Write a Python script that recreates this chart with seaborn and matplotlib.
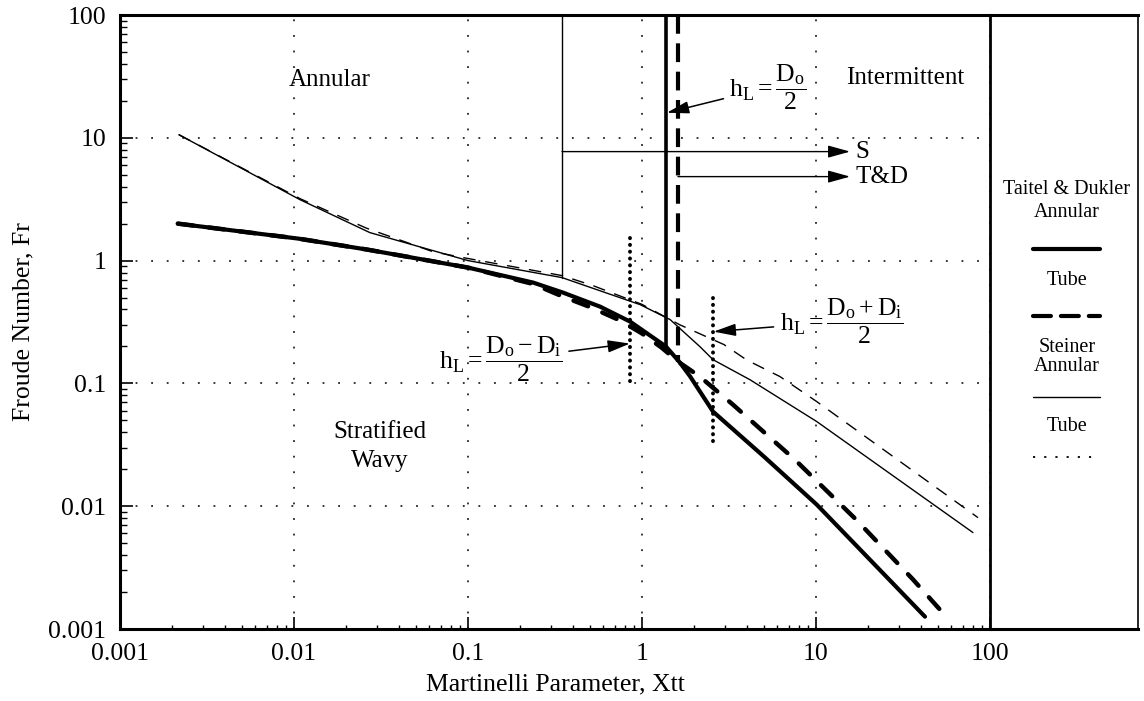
import numpy as np
import pandas as pd
import matplotlib
matplotlib.use("Agg")
import matplotlib.pyplot as plt
import seaborn as sns
from matplotlib.ticker import FixedLocator, FixedFormatter, LogLocator, NullFormatter

# ---------------- data ----------------
# Taitel & Dukler, annular (thick solid)
td_annular_x = [0.00215, 0.0106, 0.0263, 0.1, 0.237, 0.35, 0.574, 0.853, 1.374, 1.652, 1.89, 2.56, 5.0, 10.1, 42.3]
td_annular_y = [2.0, 1.51, 1.23, 0.877, 0.662, 0.55, 0.422, 0.319, 0.1995, 0.1477, 0.114, 0.0589, 0.0255, 0.0103, 0.00126]
# Taitel & Dukler, tube (thick dashed)
td_tube_x = [0.00215, 0.0106, 0.0263, 0.1, 0.237, 0.35, 0.5, 0.75, 1.0, 1.3, 1.61, 2.15, 3.33, 7.57, 17.0, 36.1, 56.6]
td_tube_y = [2.0, 1.51, 1.23, 0.877, 0.645, 0.51, 0.42, 0.325, 0.255, 0.195, 0.1506, 0.1136, 0.0672, 0.0239, 0.00778, 0.00253, 0.00124]
# Steiner, annular (thin solid)
st_annular_x = [0.00218, 0.0108, 0.0273, 0.1, 0.347, 0.975, 1.45, 2.15, 2.56, 4.18, 10.1, 79.8]
st_annular_y = [10.6, 3.14, 1.69, 1.0, 0.727, 0.438, 0.331, 0.1995, 0.156, 0.107, 0.0489, 0.0061]
# Steiner, tube (thin dashed)
st_tube_x = [0.00218, 0.0108, 0.026, 0.063, 0.1, 0.347, 0.522, 1.0, 1.65, 2.96, 4.0, 6.21, 10.1, 85.3]
st_tube_y = [10.6, 3.2, 1.84, 1.18, 1.04, 0.755, 0.626, 0.44, 0.30, 0.207, 0.155, 0.1136, 0.0711, 0.00807]

# vertical transition lines (x, y_top, y_bottom)
td_annular_vline = (1.374, 100.0, 0.1995)
td_tube_vline = (1.61, 100.0, 0.1506)
st_vline = (0.347, 100.0, 0.727)
# liquid-level markers (dotted verticals)
hl_inner_line = (0.853, 1.54, 0.094)
hl_mid_line = (2.56, 0.5, 0.0306)
# arrows S and T&D  (x_start, x_end, y)
s_arrow = (0.347, 15.7, 7.72)
td_arrow = (1.61, 15.7, 4.83)

tick_vals = [0.001, 0.01, 0.1, 1, 10, 100]
tick_labels = ["0.001", "0.01", "0.1", "1", "10", "100"]

# ---------------- style ----------------
sns.set_theme(style="white")
plt.rcParams["font.family"] = ["Liberation Serif", "DejaVu Serif"]
plt.rcParams["text.color"] = "black"
plt.rcParams["axes.labelcolor"] = "black"
plt.rcParams["xtick.color"] = "black"
plt.rcParams["ytick.color"] = "black"
plt.rcParams["mathtext.fontset"] = "custom"
plt.rcParams["mathtext.rm"] = "Liberation Serif"
plt.rcParams["mathtext.it"] = "Liberation Serif:italic"
plt.rcParams["mathtext.bf"] = "Liberation Serif:bold"
plt.rcParams["mathtext.default"] = "regular"

W, H = 1144, 701
fig = plt.figure(figsize=(W / 100, H / 100), dpi=100)
fig.patch.set_facecolor("white")

# ---------------- legend panel (drawn first, transparent) ----------------
lax = fig.add_axes([990 / W, 1 - 629 / H, 148 / W, 614 / H])
lax.set_xlim(0, 1)
lax.set_ylim(0, 1)
lax.set_xticks([])
lax.set_yticks([])
lax.patch.set_visible(False)
lax.spines["left"].set_visible(False)
for side in ("top", "bottom"):
    lax.spines[side].set_color("black")
    lax.spines[side].set_linewidth(2.2)
lax.spines["right"].set_color("black")
lax.spines["right"].set_linewidth(1.2)

lfs = 14.5
lx0, lx1 = 0.29, 0.74
lax.text(0.52, 0.715, "Taitel & Dukler", ha="center", va="center", fontsize=lfs)
lax.text(0.52, 0.678, "Annular", ha="center", va="center", fontsize=lfs)
lax.plot([lx0, lx1], [0.619, 0.619], color="black", lw=3.0, solid_capstyle="round")
lax.text(0.52, 0.568, "Tube", ha="center", va="center", fontsize=lfs)
lax.plot([lx0, lx1], [0.510, 0.510], color="black", lw=3.0, linestyle=(0, (4.3, 2.4)),
         dash_capstyle="round")
lax.text(0.52, 0.459, "Steiner", ha="center", va="center", fontsize=lfs)
lax.text(0.52, 0.427, "Annular", ha="center", va="center", fontsize=lfs)
lax.plot([lx0, lx1], [0.378, 0.378], color="black", lw=1.0)
lax.text(0.52, 0.329, "Tube", ha="center", va="center", fontsize=lfs)
lax.plot([lx0, lx1], [0.280, 0.280], color="black", lw=1.3, linestyle=(0, (1.2, 5)))

# ---------------- main axes ----------------
ax = fig.add_axes([120 / W, 1 - 629 / H, 870 / W, 614 / H])
ax.patch.set_visible(False)
ax.set_xscale("log")
ax.set_yscale("log")
ax.set_xlim(0.001, 100)
ax.set_ylim(0.001, 100)

# grid
ax.grid(True, which="major", color="black", lw=1.1, ls=(0, (1.2, 9)))
ax.set_axisbelow(True)

# curves
df_tda = pd.DataFrame({"x": td_annular_x, "y": td_annular_y})
df_tdt = pd.DataFrame({"x": td_tube_x, "y": td_tube_y})
df_sta = pd.DataFrame({"x": st_annular_x, "y": st_annular_y})
df_stt = pd.DataFrame({"x": st_tube_x, "y": st_tube_y})

sns.lineplot(data=df_stt, x="x", y="y", ax=ax, color="black", lw=1.0,
             linestyle=(0, (9, 7)), estimator=None, sort=False, errorbar=None)
sns.lineplot(data=df_sta, x="x", y="y", ax=ax, color="black", lw=1.0,
             estimator=None, sort=False, errorbar=None)
sns.lineplot(data=df_tdt, x="x", y="y", ax=ax, color="black", lw=3.2,
             linestyle=(0, (3.5, 3.5)), estimator=None, sort=False, errorbar=None,
             dash_capstyle="round")
sns.lineplot(data=df_tda, x="x", y="y", ax=ax, color="black", lw=3.0,
             estimator=None, sort=False, errorbar=None, solid_capstyle="round")

# vertical transition lines
ax.plot([td_annular_vline[0]] * 2, td_annular_vline[1:], color="black", lw=2.6)
ax.plot([td_tube_vline[0]] * 2, td_tube_vline[1:], color="black", lw=3.0,
        linestyle=(0, (4.5, 2.3)))
ax.plot([st_vline[0]] * 2, st_vline[1:], color="black", lw=1.0)
for xl, yt, yb in (hl_inner_line, hl_mid_line):
    ax.plot([xl, xl], [yt, yb], color="black", lw=2.8, linestyle=(0, (0.05, 1.7)),
            dash_capstyle="round")

# S and T&D arrows
arrow_style = "-|>,head_length=0.9,head_width=0.25"
for (x0, x1, yv), lab in ((s_arrow, "S"), (td_arrow, "T&D")):
    ax.annotate("", xy=(x1, yv), xytext=(x0, yv),
                arrowprops=dict(arrowstyle=arrow_style, color="black", lw=1.0,
                                shrinkA=0, shrinkB=0, mutation_scale=15))
    ax.text(x1 * 1.07, yv, lab, ha="left", va="center", fontsize=18)

# region labels
ax.text(0.0161, 29.8, "Annular", ha="center", va="center", fontsize=18)
ax.text(32.4, 30.9, "Intermittent", ha="center", va="center", fontsize=18)
ax.text(0.0312, 0.0306, "Stratified\nWavy", ha="center", va="center", fontsize=18,
        linespacing=1.4)

# liquid-level annotations
ann_props = dict(arrowstyle=arrow_style, color="black", lw=1.1, shrinkA=2, shrinkB=0,
                 mutation_scale=15)
afs = 18.5
ax.annotate(r"$h_L = \dfrac{D_o}{2}$", xy=(1.39, 16.0), xytext=(5.3, 25.6),
            ha="center", va="center", fontsize=afs, arrowprops=ann_props)
ax.annotate(r"$h_L = \dfrac{D_o - D_i}{2}$", xy=(0.853, 0.211), xytext=(0.155, 0.156),
            ha="center", va="center", fontsize=afs, arrowprops=ann_props)
ax.annotate(r"$h_L = \dfrac{D_o + D_i}{2}$", xy=(2.58, 0.264), xytext=(14.0, 0.319),
            ha="center", va="center", fontsize=afs, arrowprops=ann_props)

# axes / ticks
ax.xaxis.set_major_locator(FixedLocator(tick_vals))
ax.xaxis.set_major_formatter(FixedFormatter(tick_labels))
ax.yaxis.set_major_locator(FixedLocator(tick_vals))
ax.yaxis.set_major_formatter(FixedFormatter(tick_labels))
ax.xaxis.set_minor_locator(LogLocator(base=10, subs=np.arange(2, 10)))
ax.yaxis.set_minor_locator(LogLocator(base=10, subs=np.arange(2, 10)))
ax.xaxis.set_minor_formatter(NullFormatter())
ax.yaxis.set_minor_formatter(NullFormatter())
ax.tick_params(which="both", direction="in", colors="black", labelcolor="black",
               left=True, bottom=True, top=False, right=False)
ax.tick_params(axis="both", which="major", length=9, width=1.2, labelsize=18.5, pad=10)
ax.tick_params(axis="y", which="minor", length=5, width=1.0)
ax.tick_params(axis="x", which="minor", length=3, width=1.0)
for side in ("left", "bottom", "top"):
    ax.spines[side].set_color("black")
    ax.spines[side].set_linewidth(2.2)
ax.spines["right"].set_color("black")
ax.spines["right"].set_linewidth(2.0)
ax.set_xlabel("Martinelli Parameter, Xtt", fontsize=18.5, labelpad=6, color="black")
ax.set_ylabel("Froude Number, Fr", fontsize=18.5, labelpad=10, color="black")

fig.savefig("out.png", dpi=100, facecolor="white")
